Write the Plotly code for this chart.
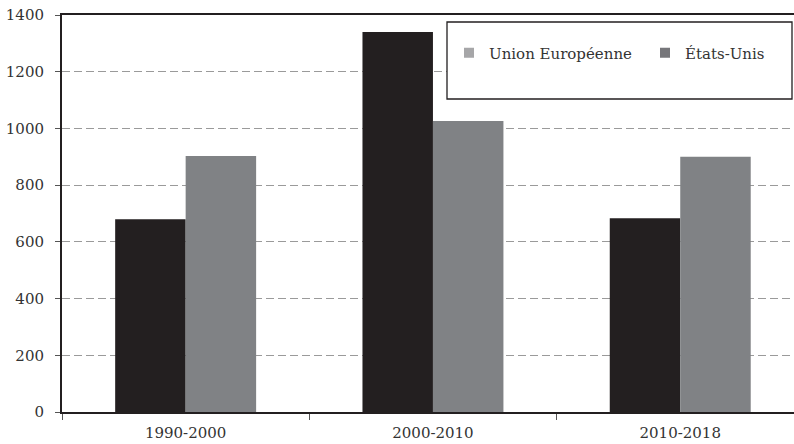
import plotly.graph_objects as go

# Periods and values (in the chart's units)
periods = ["1990-2000", "2000-2010", "2010-2018"]
ue_values = [680, 1340, 683]
us_values = [903, 1026, 900]
series_names = ["Union Européenne", "États-Unis"]
y_ticks = [0, 200, 400, 600, 800, 1000, 1200, 1400]

BAR_DARK = "#231f20"
BAR_GRAY = "#808285"
KEY_LIGHT = "#a6a6a8"
KEY_DARK = "#76767a"
FONT = "DejaVu Serif"

fig = go.Figure()
fig.add_trace(go.Bar(x=periods, y=ue_values, name=series_names[0],
                     marker=dict(color=BAR_DARK, line=dict(width=0)),
                     showlegend=False))
fig.add_trace(go.Bar(x=periods, y=us_values, name=series_names[1],
                     marker=dict(color=BAR_GRAY, line=dict(width=0)),
                     showlegend=False))

# Legend keys
for name, col in zip(series_names, [KEY_LIGHT, KEY_DARK]):
    fig.add_trace(go.Scatter(x=[None], y=[None], mode="markers", name=name,
                             marker=dict(symbol="square", size=10, color=col)))

plot_l, plot_r, plot_t, plot_b = 62, 794, 15, 412
W, H = 794, 444
pw, ph = plot_r - plot_l, plot_b - plot_t


def px(x):
    return (x - plot_l) / pw


def py(y):
    return (plot_b - y) / ph


fig.update_layout(
    width=W, height=H,
    margin=dict(l=plot_l, r=W - plot_r, t=plot_t, b=H - plot_b, pad=0,
                autoexpand=False),
    paper_bgcolor="white", plot_bgcolor="white",
    font=dict(family=FONT, size=15, color="#333333"),
    barmode="group", bargap=0.43, bargroupgap=0,
    showlegend=True,
    legend=dict(orientation="h", x=px(449), xanchor="left",
                y=py(53), yanchor="middle",
                bgcolor="rgba(0,0,0,0)", borderwidth=0,
                font=dict(family=FONT, size=15, color="#333333"),
                entrywidth=151, entrywidthmode="pixels",
                itemclick=False),
    shapes=[dict(type="rect", xref="paper", yref="paper",
                 x0=px(447), x1=px(792), y0=py(99), y1=py(22),
                 line=dict(color=BAR_DARK, width=1.3),
                 fillcolor="white", layer="above")],
)

fig.update_xaxes(
    type="category", range=[-0.5, 2.46],
    showline=True, linecolor=BAR_DARK, linewidth=2, mirror=True,
    ticks="outside", ticklen=6, tickcolor="#555555", tickwidth=1,
    tickson="boundaries", showgrid=False, zeroline=False,
    ticklabelstandoff=6,
    tickfont=dict(family=FONT, size=15, color="#333333"),
)
fig.update_yaxes(
    range=[0, 1400], tickvals=y_ticks,
    showline=True, linecolor=BAR_DARK, linewidth=2,
    ticks="outside", ticklen=5, tickcolor="#555555", tickwidth=1,
    showgrid=True, gridcolor="#9a9a9a", gridwidth=1, griddash="8px,4px",
    zeroline=False, ticklabelstandoff=8,
    tickfont=dict(family=FONT, size=15, color="#333333"),
)

fig.write_html("out.html")
